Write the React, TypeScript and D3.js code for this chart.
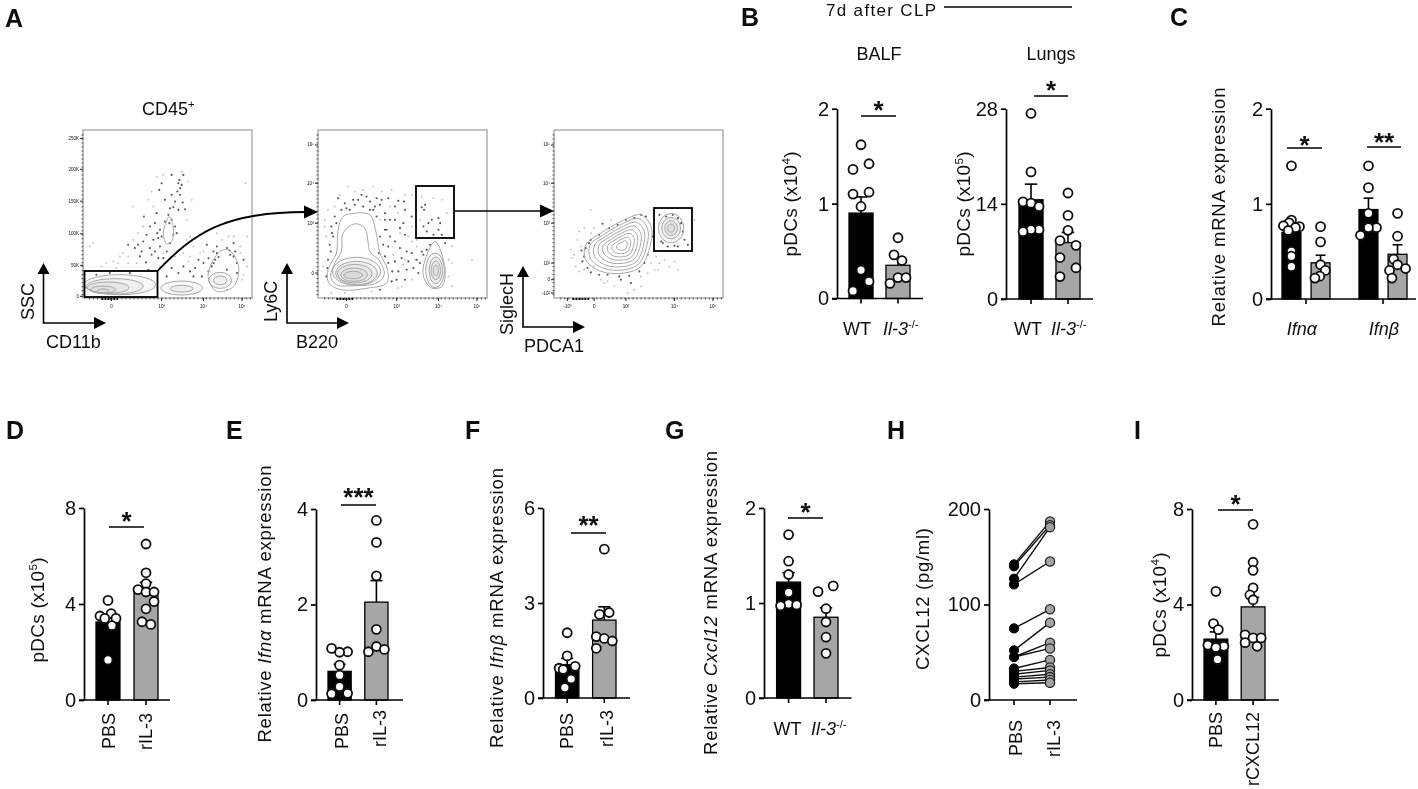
import React, { useEffect, useRef } from "react";
import * as d3 from "d3";

// ---------- values ----------
const balfWt = [1.62, 1.42, 1.36, 1.12, 1.1, 0.97, 0.3, 0.18, 0.08];
const balfWtSlots = [0, 1, -1, 1, -1, 0, 0, 1, -1];
const balfKo = [0.64, 0.46, 0.4, 0.22, 0.22, 0.16];
const balfKoSlots = [0, -0.5, 0.5, 0, 1, -1];
const lungWt = [27.3, 18.7, 14.3, 14.1, 13.6, 10.2, 10.2, 9.9];
const lungWtSlots = [0, 0, -1, 0, 1, 1, 0, -1];
const lungKo = [15.6, 12.3, 10.1, 8.6, 7.9, 6.1, 4.6, 3.3];
const lungKoSlots = [0, 0, 0, -1, 1, -1, 1, -1];
const ifnaWt = [1.4, 0.83, 0.8, 0.77, 0.76, 0.75, 0.72, 0.5, 0.45, 0.34];
const ifnaWtSlots = [0, 0, -0.3, -1, 1, 0.5, -0.4, 0, 0, 0];
const ifnaKo = [0.76, 0.6, 0.36, 0.3, 0.24, 0.22];
const ifnaKoSlots = [0, 0, 0, 0.6, -0.1, -0.7];
const ifnbWt = [1.4, 1.17, 0.9, 0.75, 0.75, 0.67];
const ifnbWtSlots = [0, 0, 0, 1, 0, -1];
const ifnbKo = [0.9, 0.66, 0.42, 0.36, 0.32, 0.3, 0.22];
const ifnbKoSlots = [0, 0, -0.5, 0, 1, -1, -0.7];
const dPbs = [4.15, 3.6, 3.5, 3.4, 3.4, 3.1, 1.67];
const dPbsSlots = [0, 0.4, -1, -0.4, 1, 0.5, 0];
const dRil = [6.5, 5.3, 4.85, 4.6, 4.5, 4.5, 4.1, 3.8, 3.26, 3.15];
const dRilSlots = [0, 0, 0, -1, 0, 1, 1, 0, -0.5, 0.6];
const ePbs = [1.08, 1.01, 1.0, 0.73, 0.52, 0.28, 0.14, 0.13];
const ePbsSlots = [-1, 1, 0, 0, 0, 0, 1, -1];
const eRil = [3.76, 3.3, 2.6, 1.48, 1.12, 1.06, 1.01];
const eRilSlots = [0, 0, 0, 0, 0, 1, -1];
const fPbs = [2.06, 1.33, 1.0, 0.94, 0.9, 0.6, 0.33];
const fPbsSlots = [0, 0, 1, -1, -0.5, 0.5, -0.3];
const fRil = [4.7, 2.7, 2.64, 1.94, 1.88, 1.8, 1.57];
const fRilSlots = [0, 0.6, -0.6, -1, 0, 1, -1];
const gWt = [1.72, 1.44, 1.3, 1.11, 0.99, 0.98, 0.97];
const gWtSlots = [0, 0, 0, 0, 0, 1, -1];
const gKo = [1.18, 1.12, 0.94, 0.8, 0.64, 0.47];
const gKoSlots = [0.9, -1, 0, 0, 0, 0];
const iPbs = [4.55, 3.2, 2.95, 2.3, 2.25, 2.2, 1.7];
const iPbsSlots = [0, -0.3, 0.3, -1, 1, 0, 0.2];
const iCx = [7.36, 5.77, 5.43, 4.7, 4.4, 4.2, 2.73, 2.6, 2.6, 2.4, 2.25];
const iCxSlots = [0, 0, 0, 0, -0.4, 0, -1, 0, 1, -1, 0.5];

const hPbs = [142, 140, 127, 121, 75, 52, 45, 45, 33, 30, 27, 24, 22, 19, 17];
const hRil = [187, 183, 181, 145, 95, 81, 60, 54, 42, 34, 31, 27, 24, 21, 18];

// flow cytometry events, in the units of a 505-wide plot grid
const flow1Dark = [[305,165],[340,165],[275,190],[325,190],[330,205],[268,210],[305,225],[330,225],[285,240],[315,245],[345,268],[300,265],[260,280],[325,270],[295,285],[305,300],[222,290],[255,310],[270,330],[285,305],[315,320],[240,320],[275,350],[265,355],[320,340],[230,345],[195,385],[240,385],[270,380],[300,370],[290,395],[255,395],[215,395],[265,415],[228,428],[175,375],[250,360],[410,375],[440,380],[470,385],[490,370],[478,392],[490,410],[500,430],[440,400],[415,415],[400,430],[435,420],[425,440],[375,445],[340,440],[305,445],[470,450],[500,460],[520,420],[370,470],[395,470],[290,470],[235,450],[180,460],[120,460],[80,465],[328,180],[335,195],[322,215],[338,248],[310,262],[298,310],[310,345],[262,340],[245,405],[205,375],[220,365],[210,410],[280,415],[430,395],[445,412],[430,430],[385,420],[360,455],[415,455],[325,460],[480,405],[495,395]];
const flow1Faint = [[60,380],[70,370],[110,430],[150,410],[190,260],[245,215],[280,165],[355,185],[365,240],[350,300],[360,350],[205,340],[160,400],[130,425],[95,440],[440,340],[490,350],[510,380],[525,190],[530,350],[530,440],[515,480],[470,510],[350,360],[370,380],[390,400],[340,400],[315,410],[200,430],[175,430],[270,440],[140,445],[235,240],[260,170],[335,155],[250,260],[220,320],[190,360],[175,410],[145,430],[360,410],[455,360],[475,350],[510,400],[520,465],[400,395],[280,400],[355,425]];
const flow2Dark = [[100,235],[125,265],[135,270],[150,255],[170,225],[195,270],[205,270],[215,235],[230,240],[280,243],[297,245],[250,235],[185,230],[110,270],[90,290],[82,340],[75,375],[85,350],[65,470],[78,395],[240,330],[235,375],[222,400],[245,330],[255,300],[270,300],[295,310],[270,365],[250,380],[285,385],[305,395],[320,400],[270,425],[250,430],[262,455],[280,455],[305,450],[325,445],[340,460],[345,430],[355,405],[365,390],[375,375],[260,485],[225,510],[300,480],[350,262],[360,255],[357,270],[380,300],[400,295],[370,310],[405,310],[355,320],[400,330],[365,335],[385,345],[410,345],[420,370],[210,260],[240,280],[300,270],[320,290],[160,240],[120,250],[145,240],[175,260],[195,245],[225,255],[270,260],[240,300],[285,325],[300,345],[255,350],[215,290],[225,350],[290,415],[310,425],[240,410],[275,480],[335,420],[350,395],[70,420],[68,445],[95,310],[80,320]];
const flow2Faint = [[130,200],[175,210],[205,200],[260,210],[105,225],[70,270],[60,320],[90,260],[225,300],[320,225],[310,350],[300,420],[265,405],[295,435],[350,230],[385,235],[410,240],[345,300],[425,280],[440,380],[430,420],[430,470],[320,480],[290,500],[200,515],[80,520],[500,420],[255,260],[280,280],[335,360],[285,340],[330,420],[150,215],[230,215],[300,225],[60,300],[65,350],[55,440],[320,320],[320,365],[335,380],[440,430],[440,500],[280,505],[120,520]];
const flow3Dark = [[185,312],[255,300],[315,290],[300,285],[230,315],[175,345],[150,360],[135,385],[122,392],[125,425],[150,458],[175,465],[240,480],[235,470],[270,490],[295,455],[320,405],[420,310],[425,335],[430,360],[440,375],[410,380],[360,365],[380,380],[355,285],[410,295],[145,370],[205,325],[280,295],[130,410],[140,445],[200,465],[265,468],[310,430],[335,350],[395,285],[375,290],[365,370],[400,378]];
const flow3Faint = [[130,325],[150,340],[100,405],[95,415],[105,440],[130,450],[160,440],[200,485],[260,520],[300,500],[150,270],[340,450],[400,425],[410,450],[355,430],[460,300],[345,410],[220,500],[180,480],[120,380],[110,360],[300,470],[330,430],[370,420],[90,390],[115,335],[160,325],[210,300],[115,455],[190,490],[280,510],[320,460],[350,450],[385,440]];

const flow1Ellipses = [[150,495,107,30],[135,500,85,23],[115,504,62,17],[100,510,38,11],[100,514,18,6],[335,505,62,21],[335,507,34,10],[450,482,34,24],[450,482,20,13]];
const flow2Ellipses = [[155,455,72,42],[155,460,62,35],[150,462,52,28],[148,465,40,20],[145,466,28,11],[390,452,28,52],[392,452,20,40],[392,452,14,28],[392,452,8,16]];
const flow3Ellipses = [[390,325,38,44],[390,325,28,32],[390,325,19,22],[390,325,10,12]];
const flow1Rings = [
  [[298,290],[310,325],[305,365],[290,372],[280,340]],
  [[420,440],[450,395],[475,390],[505,440],[490,500],[440,515],[415,480]],
];
const flow2Rings = [
  [[150,280],[195,285],[212,330],[225,400],[248,450],[245,490],[190,505],[110,510],[72,490],[70,450],[95,400],[100,330],[115,290]],
  [[150,312],[180,325],[190,370],[195,395],[225,425],[238,465],[215,490],[150,498],[95,495],[78,470],[90,430],[110,395],[115,340]],
  [[390,365],[420,450],[410,500],[380,505],[355,470],[360,420]],
];
const flow3Outline = [[300,285],[330,320],[328,375],[300,440],[250,460],[180,455],[135,420],[135,375],[180,340],[240,305]];
const flow3Factors = [1, 0.88, 0.76, 0.64, 0.52, 0.4, 0.28, 0.16];

const ssTicks = ["250K", "200K", "150K", "100K", "50K", "0"];
const ssTickValues = [55, 148, 244, 342, 437, 530];
const logTicks = ["10⁵", "10⁴", "10³", "0"];
const logYValues = [75, 190, 310, 460];
const log3Y = ["10⁵", "10⁴", "10³", "10²", "0", "-10²"];
const log3YValues = [75, 190, 310, 430, 480, 520];
const logX = ["0", "10³", "10⁴", "10⁵"];
const logXValues = [125, 275, 400, 515];
const log3X = ["-10³", "0", "10³", "10⁴", "10⁵"];
const log3XValues = [80, 160, 255, 400, 515];

const FONT = "'Liberation Sans', Arial, sans-serif";
type Seg = [string, { i?: boolean; sup?: boolean }?];

function addText(parent: any, o: { x: number; y: number; segs: Seg[] | string; anchor?: string; size?: number; rot?: boolean; len?: number; weight?: string }) {
  const segs: Seg[] = typeof o.segs === "string" ? [[o.segs]] : o.segs;
  const t = parent.append("text")
    .attr("transform", `translate(${o.x},${o.y})${o.rot ? " rotate(-90)" : ""}`)
    .attr("text-anchor", o.anchor ?? "start")
    .attr("font-size", o.size ?? 18)
    .attr("font-family", FONT)
    .attr("font-weight", o.weight ?? "normal")
    .attr("fill", "#111");
  if (o.len) t.attr("textLength", o.len).attr("lengthAdjust", "spacing");
  const size = o.size ?? 18;
  let up = false;
  segs.forEach(([s, f]) => {
    const ts = t.append("tspan").text(s);
    if (f?.i) ts.attr("font-style", "italic");
    if (f?.sup) { ts.attr("font-size", size * 0.62).attr("dy", -size * 0.38); up = true; }
    else if (up) { ts.attr("dy", size * 0.38); up = false; }
  });
}

type BarSet = { range: [number, number]; pad: number; cats: string[]; means: number[]; tops: number[]; pts: number[][]; slots: number[][]; tickAt?: number };
type Panel = { axisX: number; endX: number; yTop: number; y0: number; max: number; ticks: number[]; sets: BarSet[] };

const SLOT = 8;

function drawBars(svg: any, p: Panel) {
  const g = svg.append("g");
  const y = d3.scaleLinear().domain([0, p.max]).range([p.y0, p.yTop]);
  p.sets.forEach((s) => {
    const x = d3.scaleBand().domain(s.cats).range(s.range).paddingInner(s.pad);
    const w = x.bandwidth();
    s.cats.forEach((c, i) => {
      const cx = (x(c) as number) + w / 2;
      g.append("line").attr("x1", cx).attr("x2", cx).attr("y1", y(s.means[i])).attr("y2", y(s.tops[i])).attr("stroke", "#000").attr("stroke-width", 1.6);
      g.append("line").attr("x1", cx - w * 0.26).attr("x2", cx + w * 0.26).attr("y1", y(s.tops[i])).attr("y2", y(s.tops[i])).attr("stroke", "#000").attr("stroke-width", 1.6);
      g.append("rect").attr("x", x(c) as number).attr("width", w).attr("y", y(s.means[i])).attr("height", y(0) - y(s.means[i]))
        .attr("fill", i === 0 ? "#000" : "#a6a6a6").attr("stroke", "#000").attr("stroke-width", 1.3);
      if (s.tickAt === undefined) g.append("line").attr("x1", cx).attr("x2", cx).attr("y1", p.y0).attr("y2", p.y0 + 5).attr("stroke", "#000").attr("stroke-width", 1.6);
      s.pts[i].forEach((v, j) => {
        g.append("circle").attr("cx", cx + s.slots[i][j] * SLOT).attr("cy", y(v)).attr("r", 4.5)
          .attr("fill", "#fff").attr("stroke", "#111").attr("stroke-width", 1.8);
      });
    });
    if (s.tickAt !== undefined) g.append("line").attr("x1", s.tickAt).attr("x2", s.tickAt).attr("y1", p.y0).attr("y2", p.y0 + 5).attr("stroke", "#000").attr("stroke-width", 1.6);
  });
  g.append("line").attr("x1", p.axisX - 5).attr("x2", p.endX).attr("y1", p.y0).attr("y2", p.y0).attr("stroke", "#000").attr("stroke-width", 1.7);
  const ax = g.append("g").attr("transform", `translate(${p.axisX},0)`)
    .call(d3.axisLeft(y).tickValues(p.ticks).tickSize(5).tickSizeOuter(0).tickPadding(3).tickFormat(d3.format("d") as any));
  ax.selectAll("path,line").attr("stroke", "#000").attr("stroke-width", 1.7);
  ax.selectAll("text").attr("font-size", 20).attr("font-family", FONT).attr("fill", "#111");
}

function stat(svg: any, x1: number, x2: number, y: number, stars: string, starY: number) {
  svg.append("line").attr("x1", x1).attr("x2", x2).attr("y1", y).attr("y2", y).attr("stroke", "#000").attr("stroke-width", 1.6);
  addText(svg, { x: (x1 + x2) / 2, y: starY + 15, segs: stars, anchor: "middle", size: 26, weight: "bold" });
}

function arrowAxes(svg: any, x: number, top: number, y: number, right: number) {
  const path = `M${x},${top + 8}V${y}H${right - 8}`;
  svg.append("path").attr("d", path).attr("fill", "none").attr("stroke", "#000").attr("stroke-width", 1.6);
  svg.append("path").attr("d", `M${x},${top}l-6,11h12z`).attr("fill", "#000");
  svg.append("path").attr("d", `M${right},${y}l-12,-6v12z`).attr("fill", "#000");
}

function drawFlow(svg: any, o: { left: number; dark: number[][]; faint: number[][]; ellipses: number[][]; rings: number[][][]; yTicks: string[]; yVals: number[]; xTicks: string[]; xVals: number[] }) {
  const W = 169;
  const sx = d3.scaleLinear().domain([40, 545]).range([o.left, o.left + W]);
  const sy = d3.scaleLinear().domain([535, 30]).range([298, 130]);
  const rxs = W / 505;
  const g = svg.append("g").attr("filter", "url(#flowBlur)");
  g.append("rect").attr("x", o.left).attr("y", 130).attr("width", W).attr("height", 168).attr("fill", "#fff").attr("stroke", "#aaa").attr("stroke-width", 1.4);
  g.selectAll("circle.f").data(o.faint).enter().append("circle").attr("cx", (d: number[]) => sx(d[0])).attr("cy", (d: number[]) => sy(d[1])).attr("r", 0.9).attr("fill", "#bbb");
  g.selectAll("circle.d").data(o.dark).enter().append("circle").attr("cx", (d: number[]) => sx(d[0])).attr("cy", (d: number[]) => sy(d[1])).attr("r", 1.05).attr("fill", "#555");
  o.ellipses.forEach((e) => {
    g.append("ellipse").attr("cx", sx(e[0])).attr("cy", sy(e[1])).attr("rx", e[2] * rxs).attr("ry", e[3] * rxs).attr("fill", "#777").attr("fill-opacity", 0.06).attr("stroke", "#a8a8a8").attr("stroke-width", 1);
  });
  const line = d3.line<number[]>().x((d) => sx(d[0])).y((d) => sy(d[1])).curve(d3.curveCatmullRomClosed);
  o.rings.forEach((r) => {
    g.append("path").attr("d", line(r)).attr("fill", "none").attr("stroke", "#a8a8a8").attr("stroke-width", 1);
  });
  const minor = d3.range(45, 530, 12);
  minor.forEach((v) => {
    g.append("line").attr("x1", o.left - 1.5).attr("x2", o.left + 0.5).attr("y1", sy(v)).attr("y2", sy(v)).attr("stroke", "#444").attr("stroke-width", 0.9);
    g.append("line").attr("x1", sx(v + 15)).attr("x2", sx(v + 15)).attr("y1", 297.5).attr("y2", 299.5).attr("stroke", "#444").attr("stroke-width", 0.9);
  });
  o.yVals.forEach((v, i) => {
    g.append("line").attr("x1", o.left - 3).attr("x2", o.left).attr("y1", sy(v)).attr("y2", sy(v)).attr("stroke", "#222").attr("stroke-width", 1);
    addText(g, { x: o.left - 4, y: sy(v) + 1.5, segs: o.yTicks[i], anchor: "end", size: 4.5 });
  });
  o.xVals.forEach((v, i) => {
    g.append("line").attr("x1", sx(v)).attr("x2", sx(v)).attr("y1", 298).attr("y2", 301).attr("stroke", "#222").attr("stroke-width", 1);
    addText(g, { x: sx(v), y: 308, segs: o.xTicks[i], anchor: "middle", size: 4.5 });
  });
  g.append("line").attr("x1", sx(95)).attr("x2", sx(145)).attr("y1", 299).attr("y2", 299).attr("stroke", "#111").attr("stroke-width", 2).attr("stroke-dasharray", "2 1");
  return { sx, sy };
}

export default function App() {
  const ref = useRef<SVGSVGElement | null>(null);
  useEffect(() => {
    const svg = d3.select(ref.current);
    svg.selectAll("*").remove();
    const defs = svg.append("defs");
    defs.append("filter").attr("id", "flowBlur").append("feGaussianBlur").attr("stdDeviation", 0.55);
    defs.append("filter").attr("id", "soft").append("feGaussianBlur").attr("stdDeviation", 0.35);
    const root = svg.append("g").attr("filter", "url(#soft)");

    ([["A", 5, 27], ["B", 741, 26], ["C", 1170, 26], ["D", 6, 439], ["E", 226, 439], ["F", 465, 439], ["G", 665, 439], ["H", 887, 439], ["I", 1134, 439]] as [string, number, number][])
      .forEach(([s, x, y]) => addText(root, { x, y, segs: s, size: 25, weight: "bold" }));

    // ----- A
    drawFlow(root, { left: 83, dark: flow1Dark, faint: flow1Faint, ellipses: flow1Ellipses, rings: flow1Rings, yTicks: ssTicks, yVals: ssTickValues, xTicks: logX, xVals: logXValues });
    drawFlow(root, { left: 318, dark: flow2Dark, faint: flow2Faint, ellipses: flow2Ellipses, rings: flow2Rings, yTicks: logTicks, yVals: logYValues, xTicks: logX, xVals: logXValues });
    const f3cx = 245, f3cy = 378;
    const f3rings = flow3Factors.map((k) => flow3Outline.map(([a, b]) => [f3cx + (a - f3cx) * k, f3cy + (b - f3cy) * k]));
    drawFlow(root, { left: 554, dark: flow3Dark, faint: flow3Faint, ellipses: flow3Ellipses, rings: f3rings, yTicks: log3Y, yVals: log3YValues, xTicks: log3X, xVals: log3XValues });

    ([[84.5, 271, 73, 26], [416, 186, 38, 52], [654, 208, 38, 43]] as number[][]).forEach(([x, y, w, h]) =>
      root.append("rect").attr("x", x).attr("y", y).attr("width", w).attr("height", h).attr("fill", "none").attr("stroke", "#000").attr("stroke-width", 1.8));
    root.append("path").attr("d", "M157.5,271 C195,232 225,212 306,212").attr("fill", "none").attr("stroke", "#000").attr("stroke-width", 1.8);
    root.append("path").attr("d", "M318,212l-14,-6.5v13z").attr("fill", "#000");
    root.append("line").attr("x1", 454).attr("x2", 542).attr("y1", 211).attr("y2", 211).attr("stroke", "#000").attr("stroke-width", 1.6);
    root.append("path").attr("d", "M554,211l-14,-6.5v13z").attr("fill", "#000");

    addText(root, { x: 142, y: 115, segs: [["CD45"], ["+", { sup: true }]], size: 18 });
    arrowAxes(root, 43.5, 263, 323, 106);
    arrowAxes(root, 287, 263, 323, 349);
    arrowAxes(root, 523, 266, 327, 585);
    addText(root, { x: 34, y: 320, segs: "SSC", rot: true, size: 18 });
    addText(root, { x: 46, y: 348, segs: "CD11b", size: 18 });
    addText(root, { x: 277, y: 322, segs: "Ly6C", rot: true, size: 18 });
    addText(root, { x: 296, y: 348, segs: "B220", size: 18 });
    addText(root, { x: 513, y: 335, segs: "SiglecH", rot: true, size: 18 });
    addText(root, { x: 524, y: 352, segs: "PDCA1", size: 18 });

    // ----- B
    addText(root, { x: 826, y: 15.5, segs: "7d after CLP", size: 17, len: 110 });
    root.append("line").attr("x1", 944).attr("x2", 1072).attr("y1", 7).attr("y2", 7).attr("stroke", "#000").attr("stroke-width", 1.4);
    addText(root, { x: 879, y: 60, segs: "BALF", anchor: "middle", size: 18 });
    addText(root, { x: 1051, y: 60, segs: "Lungs", anchor: "middle", size: 18 });

    drawBars(root, { axisX: 837, endX: 923, yTop: 108.7, y0: 298.5, max: 2, ticks: [0, 1, 2], sets: [{ range: [849, 910], pad: 0.35, cats: ["WT", "KO"], means: [0.9, 0.35], tops: [1.07, 0.44], pts: [balfWt, balfKo], slots: [balfWtSlots, balfKoSlots] }] });
    drawBars(root, { axisX: 1006, endX: 1093, yTop: 108.7, y0: 299, max: 28, ticks: [0, 14, 28], sets: [{ range: [1019, 1080], pad: 0.35, cats: ["WT", "KO"], means: [14.6, 8.3], tops: [16.9, 9.8], pts: [lungWt, lungKo], slots: [lungWtSlots, lungKoSlots] }] });
    drawBars(root, { axisX: 1271, endX: 1416, yTop: 108.7, y0: 299, max: 2, ticks: [0, 1, 2], sets: [
      { range: [1282, 1330], pad: 0.35, cats: ["WT", "KO"], means: [0.7, 0.38], tops: [0.78, 0.46], pts: [ifnaWt, ifnaKo], slots: [ifnaWtSlots, ifnaKoSlots], tickAt: 1306 },
      { range: [1359, 1407], pad: 0.35, cats: ["WT", "KO"], means: [0.94, 0.47], tops: [1.06, 0.57], pts: [ifnbWt, ifnbKo], slots: [ifnbWtSlots, ifnbKoSlots], tickAt: 1383 },
    ] });
    stat(root, 861, 896, 116, "*", 104);
    stat(root, 1034, 1068, 96, "*", 84);
    stat(root, 1287, 1322, 148, "*", 139);
    stat(root, 1367, 1401, 147, "**", 136);
    addText(root, { x: 797, y: 204, segs: [["pDCs (x10"], ["4", { sup: true }], [")"]], anchor: "middle", rot: true, size: 19, len: 105 });
    addText(root, { x: 970, y: 204, segs: [["pDCs (x10"], ["5", { sup: true }], [")"]], anchor: "middle", rot: true, size: 19, len: 105 });
    addText(root, { x: 1225, y: 207, segs: "Relative mRNA expression", anchor: "middle", rot: true, size: 18.5, len: 239 });
    const il3: Seg[] = [["Il-3", { i: true }], ["-/-", { sup: true }]];
    addText(root, { x: 857, y: 335, segs: "WT", anchor: "middle" });
    addText(root, { x: 883, y: 335, segs: il3 });
    addText(root, { x: 1028, y: 335, segs: "WT", anchor: "middle" });
    addText(root, { x: 1051, y: 335, segs: il3 });
    addText(root, { x: 1302, y: 335, segs: [["Ifnα", { i: true }]], anchor: "middle" });
    addText(root, { x: 1384, y: 335, segs: [["Ifnβ", { i: true }]], anchor: "middle" });

    // ----- D
    drawBars(root, { axisX: 84, endX: 170, yTop: 508, y0: 700, max: 8, ticks: [0, 4, 8], sets: [{ range: [96, 158], pad: 0.37, cats: ["PBS", "rIL-3"], means: [3.25, 4.45], tops: [3.5, 4.9], pts: [dPbs, dRil], slots: [dPbsSlots, dRilSlots] }] });
    stat(root, 109, 144, 527, "*", 515);
    addText(root, { x: 44, y: 610, segs: [["pDCs (x10"], ["5", { sup: true }], [")"]], anchor: "middle", rot: true, size: 19, len: 105 });
    // ----- E
    drawBars(root, { axisX: 316, endX: 403, yTop: 509, y0: 700, max: 4, ticks: [0, 2, 4], sets: [{ range: [328, 388], pad: 0.37, cats: ["PBS", "rIL-3"], means: [0.6, 2.05], tops: [0.75, 2.5], pts: [ePbs, eRil], slots: [ePbsSlots, eRilSlots] }] });
    stat(root, 341, 376, 505, "***", 491);
    addText(root, { x: 271, y: 604, segs: [["Relative "], ["Ifnα", { i: true }], [" mRNA expression"]], anchor: "middle", rot: true, size: 18.5, len: 277 });
    // ----- F
    drawBars(root, { axisX: 543, endX: 630, yTop: 508, y0: 698, max: 6, ticks: [0, 3, 6], sets: [{ range: [555.5, 616], pad: 0.37, cats: ["PBS", "rIL-3"], means: [1.05, 2.46], tops: [1.25, 2.88], pts: [fPbs, fRil], slots: [fPbsSlots, fRilSlots] }] });
    stat(root, 571, 606, 533, "**", 519);
    addText(root, { x: 503, y: 608, segs: [["Relative "], ["Ifnβ", { i: true }], [" mRNA expression"]], anchor: "middle", rot: true, size: 18.5, len: 280 });
    // ----- G
    drawBars(root, { axisX: 764, endX: 851.5, yTop: 508, y0: 698, max: 2, ticks: [0, 1, 2], sets: [{ range: [776.6, 838], pad: 0.36, cats: ["WT", "KO"], means: [1.22, 0.85], tops: [1.32, 0.95], pts: [gWt, gKo], slots: [gWtSlots, gKoSlots] }] });
    stat(root, 788, 823, 518, "*", 506);
    addText(root, { x: 717, y: 603, segs: [["Relative "], ["Cxcl12", { i: true }], [" mRNA expression"]], anchor: "middle", rot: true, size: 18.5, len: 304 });
    addText(root, { x: 787.5, y: 735, segs: "WT", anchor: "middle" });
    addText(root, { x: 811, y: 735, segs: il3 });
    // ----- H
    const hY = d3.scaleLinear().domain([0, 200]).range([700, 509]);
    const hX = d3.scalePoint<string>().domain(["PBS", "rIL-3"]).range([1014, 1050]);
    const hg = root.append("g");
    hPbs.forEach((v, i) => hg.append("line").attr("x1", hX("PBS") as number).attr("x2", hX("rIL-3") as number).attr("y1", hY(v)).attr("y2", hY(hRil[i])).attr("stroke", "#111").attr("stroke-width", 1.4));
    hPbs.forEach((v) => hg.append("circle").attr("cx", hX("PBS") as number).attr("cy", hY(v)).attr("r", 4.6).attr("fill", "#000").attr("stroke", "#000"));
    hRil.forEach((v) => hg.append("circle").attr("cx", hX("rIL-3") as number).attr("cy", hY(v)).attr("r", 4.6).attr("fill", "#a3a3a3").attr("stroke", "#222").attr("stroke-width", 1.3));
    hg.append("line").attr("x1", 984).attr("x2", 1077).attr("y1", 700).attr("y2", 700).attr("stroke", "#000").attr("stroke-width", 1.7);
    (["PBS", "rIL-3"]).forEach((c) => hg.append("line").attr("x1", hX(c) as number).attr("x2", hX(c) as number).attr("y1", 700).attr("y2", 705).attr("stroke", "#000").attr("stroke-width", 1.6));
    const hAx = hg.append("g").attr("transform", "translate(989,0)").call(d3.axisLeft(hY).tickValues([0, 100, 200]).tickSize(5).tickSizeOuter(0).tickPadding(3));
    hAx.selectAll("path,line").attr("stroke", "#000").attr("stroke-width", 1.7);
    hAx.selectAll("text").attr("font-size", 20).attr("font-family", FONT).attr("fill", "#111");
    addText(root, { x: 929, y: 599, segs: "CXCL12 (pg/ml)", anchor: "middle", rot: true, size: 18.5, len: 142 });
    // ----- I
    drawBars(root, { axisX: 1192, endX: 1279, yTop: 509, y0: 700, max: 8, ticks: [0, 4, 8], sets: [{ range: [1204, 1265], pad: 0.36, cats: ["PBS", "rCXCL12"], means: [2.55, 3.9], tops: [2.85, 4.3], pts: [iPbs, iCx], slots: [iPbsSlots, iCxSlots] }] });
    stat(root, 1218, 1253, 510, "*", 498);
    addText(root, { x: 1166, y: 605, segs: [["pDCs (x10"], ["4", { sup: true }], [")"]], anchor: "middle", rot: true, size: 19, len: 105 });

    ([[115, 713, "PBS"], [152, 713, "rIL-3"], [348, 713, "PBS"], [386, 710, "rIL-3"], [573, 713, "PBS"], [613, 710, "rIL-3"], [1022, 720, "PBS"], [1060, 720, "rIL-3"], [1222, 712, "PBS"], [1259, 712, "rCXCL12"]] as [number, number, string][])
      .forEach(([x, y, s]) => addText(root, { x, y, segs: s, anchor: "end", rot: true, size: 18 }));
  }, []);
  return <svg ref={ref} width={1418} height={789} style={{ position: "absolute", left: 0, top: 0, display: "block", background: "#fff" }} />;
}
